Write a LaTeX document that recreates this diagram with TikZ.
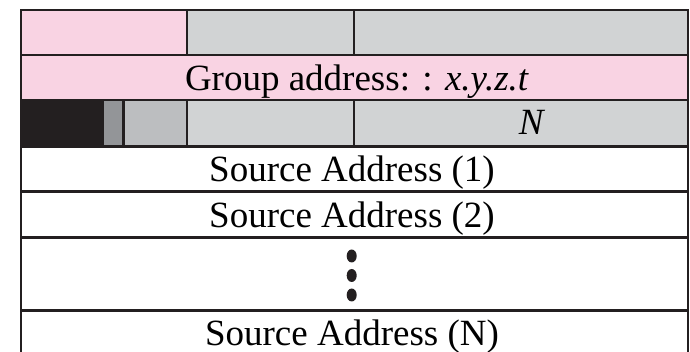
\documentclass[tikz,border=0pt]{standalone}
\usepackage{fontspec}
\setmainfont{Liberation Serif}
\definecolor{hdrpink}{HTML}{F9D3E3}
\definecolor{hdrgray}{HTML}{D1D3D4}
\definecolor{midgray}{HTML}{BCBEC0}
\definecolor{darkgray}{HTML}{939598}
\definecolor{inkblack}{HTML}{231F20}
\tikzset{
  field/.style={font=\fontsize{37}{40}\selectfont, inner sep=0pt, anchor=base},
  rule/.style={draw=inkblack, line width=2.6pt}
}

\begin{document}
\begin{tikzpicture}[x=1pt,y=-1pt]
            \useasboundingbox (0,0) rectangle (690,352);
            % row corners
            \coordinate (TL) at (21,10);
            \coordinate (BR) at (688,356);
            % header fills
            \fill[hdrpink] (21,10) rectangle (187,55);
            \fill[hdrgray] (187,10) rectangle (688,55);
            \fill[hdrpink] (21,55) rectangle (688,100);
            \fill[inkblack] (21,100) rectangle (104,146.5);
            \fill[darkgray] (104,100) rectangle (123,146.5);
            \fill[midgray] (123,100) rectangle (187,146.5);
            \fill[hdrgray] (187,100) rectangle (688,146.5);
            % separators
            \draw[rule] (21,55) -- (688,55);
            \draw[rule] (21,100) -- (688,100);
            \draw[rule] (21,146.5) -- (688,146.5);
            \draw[rule] (21,191.7) -- (688,191.7);
            \draw[rule] (21,237.7) -- (688,237.7);
            \draw[rule] (21,310.7) -- (688,310.7);
            \draw[rule] (187,10) -- (187,55);
            \draw[rule] (354,10) -- (354,55);
            \draw[rule] (123.5,100) -- (123.5,146.5);
            \draw[rule] (187,100) -- (187,146.5);
            \draw[rule] (354,100) -- (354,146.5);
            \draw[rule] (TL) rectangle (BR);
            % labels
            \node[field] (grp) at (357,91) {Group address: : \textit{x.y.z.t}};
            \node[field] (cnt) at (532,135) {\textit{N}};
            \node[field] (src1) at (352,181.5) {Source Address (1)};
            \node[field] (src2) at (352,227.5) {Source Address (2)};
            \node[field] (srcN) at (352,345) {Source Address (N)};
            % vertical dots
            \foreach \y/\n in {256/a,275.5/b,295/c}
              \fill[inkblack] (351.7,\y) ellipse (5pt and 6.5pt) coordinate (dot\n);
\end{tikzpicture}
\end{document}
